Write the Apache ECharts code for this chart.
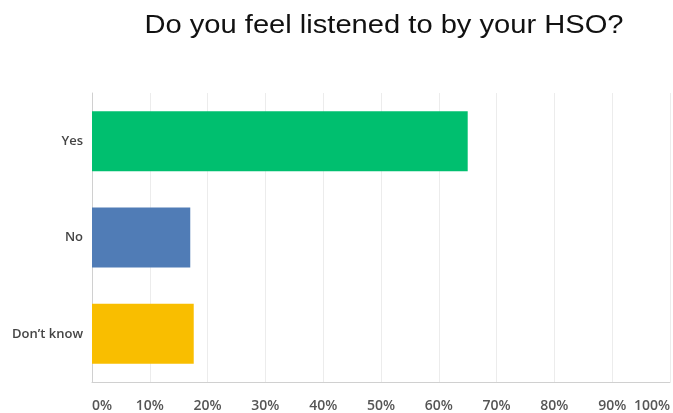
<!DOCTYPE html>
<html>
<head>
<meta charset="utf-8">
<script src="https://cdn.jsdelivr.net/npm/echarts@6/dist/echarts.min.js"></script>
<style>
  html, body { margin: 0; padding: 0; background: #fff; }
  #chart { width: 673px; height: 413px; }
</style>
</head>
<body>
<div id="chart"></div>
<script>
// Survey answers and their share of responses (%)
const categories = ['Yes', 'No', 'Don’t know'];
const shares = [65, 17, 17.6];
const barColors = ['#00bf6f', '#507cb6', '#f9be00'];
const tickValues = [0, 10, 20, 30, 40, 50, 60, 70, 80, 90, 100];
const titleText = 'Do you feel listened to by your HSO?';

const chart = echarts.init(document.getElementById('chart'));
chart.setOption({
  animation: false,
  // Title drawn as a graphic so it can be widened slightly
  graphic: [{
    type: 'text',
    x: 384,
    y: 13,
    scaleX: 1.12,
    style: {
      text: titleText,
      x: 0,
      y: 0,
      align: 'center',
      verticalAlign: 'top',
      fontFamily: 'Liberation Sans, Arial, sans-serif',
      fontSize: 26,
      fill: '#111'
    }
  }],
  grid: { left: 92, right: 0, top: 93, bottom: 28, containLabel: false },
  xAxis: {
    type: 'value',
    min: 0,
    max: 100,
    interval: 10,
    axisLine: { show: true, lineStyle: { color: '#d0d0d0' } },
    axisTick: { show: false },
    splitLine: { show: true, lineStyle: { color: '#ececec' } },
    axisLabel: {
      formatter: v => tickValues.includes(v) ? v + '%' : '',
      margin: 17,
      alignMinLabel: 'left',
      alignMaxLabel: 'right',
      fontFamily: 'Open Sans, sans-serif',
      fontWeight: 600,
      fontSize: 14,
      color: '#555'
    }
  },
  yAxis: {
    type: 'category',
    data: categories,
    inverse: true,
    axisLine: { show: true, lineStyle: { color: '#d0d0d0' } },
    axisTick: { show: false },
    axisLabel: {
      margin: 9,
      fontFamily: 'Open Sans, sans-serif',
      fontWeight: 600,
      fontSize: 13,
      color: '#444'
    }
  },
  series: [{
    type: 'bar',
    data: shares.map((v, i) => ({ value: v, itemStyle: { color: barColors[i] } })),
    barWidth: 60
  }]
});
</script>
</body>
</html>
